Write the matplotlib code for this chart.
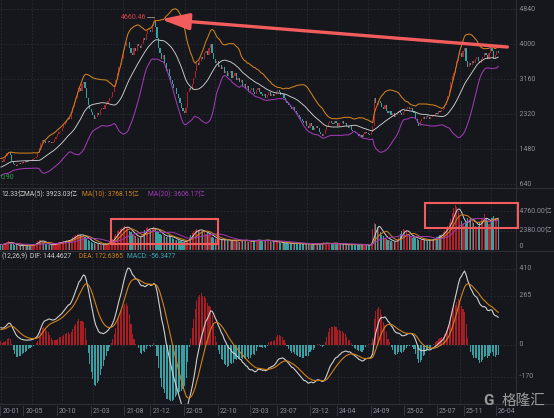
import matplotlib
matplotlib.use('Agg')
import matplotlib.pyplot as plt
from matplotlib.lines import Line2D
from matplotlib.patches import Rectangle
from matplotlib.transforms import blended_transform_factory
import numpy as np
import pandas as pd

plt.rcParams['font.family'] = ['Roboto', 'Noto Sans CJK SC', 'DejaVu Sans']

# weekly closes before the visible window, only used to warm up BOLL / MACD
warmup_close = [760, 770, 790, 780, 800, 820, 810, 840, 860, 850,
                880, 900, 890, 920, 950, 940, 970, 1000, 990, 1030,
                1060, 1050, 1090, 1120, 1100, 1140, 1170, 1160, 1190, 1210]

# weekly closes, visible window
close = [1200, 1180, 1250, 1320, 1380, 1420, 1350, 1200, 1120, 1100,
         1080, 1120, 1150, 1130, 1170, 1160, 1190, 1180, 1210, 1200,
         1230, 1250, 1280, 1300, 1380, 1500, 1620, 1700, 1680, 1640,
         1620, 1680, 1650, 1630, 1660, 1720, 1780, 1850, 1900, 1920,
         1980, 2060, 2120, 2180, 2230, 2200, 2350, 2500, 2620, 2700,
         2850, 2950, 2880, 3050, 3100, 2950, 2700, 2550, 2450, 2380,
         2300, 2200, 2250, 2350, 2300, 2420, 2480, 2450, 2550, 2580,
         2650, 2700, 2740, 2850, 2980, 3150, 3300, 3450, 3500, 3650,
         3860, 3950, 4050, 4050, 3900, 3800, 3750, 3900, 3850, 4000,
         3950, 3900, 4000, 4150, 4100, 4250, 4350, 4350, 4300, 4450,
         4560, 4420, 4150, 3900, 3800, 3650, 3750, 3550, 3350, 3400,
         3250, 3150, 3050, 2950, 2950, 2800, 2700, 2600, 2480, 2400,
         2350, 2480, 2850, 2950, 2900, 3050, 3200, 3350, 3550, 3500,
         3600, 3700, 3650, 3800, 3850, 3750, 3900, 4000, 3800, 3650,
         3550, 3600, 3450, 3500, 3400, 3450, 3300, 3350, 3250, 3300,
         3350, 3200, 3250, 3300, 3150, 3200, 3100, 3150, 3000, 3050,
         2950, 3000, 2850, 2900, 2950, 2850, 2800, 2900, 2950, 2850,
         2800, 2750, 2800, 2700, 2780, 2850, 2750, 2800, 2750, 2800,
         2850, 2900, 2850, 2780, 2800, 2700, 2650, 2600, 2550, 2500,
         2450, 2500, 2400, 2350, 2300, 2250, 2200, 2150, 2100, 2150,
         2050, 2000, 2100, 2050, 1950, 2000, 2050, 2000, 1900, 1850,
         1800, 1850, 1950, 2050, 2100, 2150, 2100, 2080, 2150, 2100,
         2050, 2120, 2100, 2150, 2080, 2100, 2050, 2000, 2050, 1950,
         1920, 1900, 1880, 1850, 1800, 1830, 1780, 1850, 1900, 1880,
         1850, 1820, 1900, 2050, 2700, 2600, 2550, 2650, 2600, 2500,
         2450, 2550, 2400, 2350, 2400, 2300, 2350, 2250, 2300, 2350,
         2400, 2350, 2300, 2380, 2420, 2450, 2500, 2450, 2480, 2400,
         2350, 2200, 2100, 2050, 2150, 2200, 2250, 2200, 2280, 2250,
         2200, 2250, 2300, 2280, 2350, 2320, 2400, 2380, 2420, 2450,
         2550, 2650, 2750, 2900, 3100, 3250, 3300, 3450, 3600, 3750,
         3800, 3700, 3850, 3900, 3600, 3450, 3550, 3500, 3600, 3550,
         3650, 3700, 3600, 3550, 3650, 3700, 3800, 3750, 3650, 3800,
         3900, 3850, 3650, 3750, 3850, 3800]

# weekly turnover, 亿
volume = [700, 650, 800, 900, 1000, 1100, 900, 800, 700, 650,
          600, 550, 600, 500, 550, 600, 650, 600, 550, 600,
          650, 700, 800, 900, 1100, 1250, 1300, 1000, 900, 800,
          700, 650, 600, 650, 700, 800, 850, 900, 950, 1000,
          1000, 1100, 1050, 1200, 1300, 1250, 1400, 1600, 1750, 1900,
          2000, 1900, 1800, 1700, 1900, 1600, 1400, 1200, 1100, 1000,
          900, 850, 800, 750, 800, 700, 650, 700, 750, 800,
          900, 1000, 1200, 1400, 1700, 2000, 2300, 2500, 2600, 2700,
          2900, 3000, 2800, 2700, 2400, 2200, 2000, 1800, 1700, 1600,
          1500, 1600, 1800, 2200, 2500, 2700, 2800, 2600, 2500, 2700,
          2900, 2600, 2300, 2200, 2000, 1900, 1800, 1700, 1600, 1700,
          1800, 1600, 1500, 1400, 1300, 1250, 1200, 1100, 1150, 1000,
          1050, 1100, 1300, 1600, 1900, 2100, 2300, 2500, 2600, 2400,
          2500, 2400, 2300, 2200, 2000, 2100, 1900, 1800, 1600, 1500,
          1400, 1350, 1300, 1250, 1200, 1300, 1350, 1250, 1200, 1150,
          1100, 1200, 1300, 1250, 1150, 1100, 1050, 1200, 1300, 1250,
          1200, 1100, 1000, 1050, 1100, 1200, 1250, 1300, 1200, 1150,
          1100, 1200, 1250, 1300, 1200, 1150, 1100, 1050, 1000, 1100,
          1050, 1000, 950, 900, 850, 900, 950, 850, 800, 750,
          800, 850, 900, 850, 800, 750, 700, 750, 800, 850,
          800, 750, 700, 650, 700, 750, 800, 750, 700, 800,
          900, 950, 850, 800, 750, 800, 850, 900, 850, 800,
          750, 700, 750, 800, 700, 650, 600, 650, 700, 750,
          700, 650, 600, 650, 700, 750, 700, 650, 600, 650,
          600, 650, 700, 2600, 3300, 3200, 2900, 2600, 2200, 1900,
          1700, 1500, 1400, 1300, 1200, 1100, 1000, 1000, 1100, 1300,
          1600, 2000, 2400, 2600, 2500, 2300, 2000, 1800, 1600, 1500,
          1700, 1500, 1400, 1300, 1250, 1200, 1300, 1250, 1200, 1150,
          1200, 1250, 1300, 1400, 1500, 1600, 1700, 1800, 2000, 2200,
          2500, 2800, 3000, 3300, 3800, 4500, 5200, 5500, 5300, 4800,
          4200, 3600, 3200, 3000, 3400, 4000, 3800, 4000, 3700, 3300,
          3000, 2800, 3000, 3500, 3800, 4000, 4400, 3800, 3400, 3200,
          3500, 3900, 4200, 4000, 3700, 3800]

start_date = '2020-01-17'
peak_high = 4660.46
low_text = '0.90'
month_labels = ['20-01', '20-05', '20-10', '21-03', '21-08', '21-12', '22-05',
                '22-10', '23-03', '23-07', '23-12', '24-04', '24-09', '25-02',
                '25-07', '25-11', '26-04']
price_ticks = [4840, 4000, 3160, 2320, 1480, 640]
vol_ticks = [4760, 2380]
macd_ticks = [410, 265, 0, -170]

BG = '#15171c'
GRID = '#2a2d34'
SEP = '#2c2f36'
TXT = '#8b8f97'
RED = '#b51f27'
TEAL = '#38a2a3'
ORANGE = '#d0821c'
PURPLE = '#a03ab3'
WHITE = '#cfcfcf'
MARK = '#f25c5c'

# indicators
allc = pd.Series(warmup_close + close, dtype=float)
nw = len(warmup_close)
mid = allc.rolling(20).mean()
sd = allc.rolling(20).std(ddof=0)
upper = (mid + 2 * sd).values[nw:]
lower = (mid - 2 * sd).values[nw:]
mid = mid.values[nw:]
ema12 = allc.ewm(span=12, adjust=False).mean()
ema26 = allc.ewm(span=26, adjust=False).mean()
dif_s = ema12 - ema26
dea_s = dif_s.ewm(span=9, adjust=False).mean()
dif = dif_s.values[nw:]
dea = dea_s.values[nw:]
hist = 2 * (dif - dea)

c = allc.values[nw:]
o = allc.values[nw - 1:-1]
n = len(c)
x = np.arange(n)
up = c >= o
cols = np.where(up, RED, TEAL)

vol = pd.Series(volume, dtype=float)
vma5 = vol.rolling(5, min_periods=1).mean()
vma10 = vol.rolling(10, min_periods=1).mean()
vma20 = vol.rolling(20, min_periods=1).mean()

W, H = 554, 418
fig = plt.figure(figsize=(W / 100, H / 100), dpi=100, facecolor=BG)

def px_axes(top, bottom):
    return fig.add_axes([0, 1 - bottom / H, 516 / W, (bottom - top) / H], facecolor=BG)

ax1 = px_axes(0, 188)
ax2 = px_axes(188, 251)
ax3 = px_axes(251, 404)

XMIN, XMAX = -0.6, -0.6 + 516 / 1.53
for ax in (ax1, ax2, ax3):
    ax.set_xlim(XMIN, XMAX)
    ax.set_xticks([])
    ax.set_yticks([])
    for s in ('left', 'top', 'bottom'):
        ax.spines[s].set_visible(False)
    ax.spines['right'].set_color(SEP)
    ax.spines['right'].set_linewidth(0.8)
    for g in range(0, int(XMAX), 20):
        ax.axvline(g, color=GRID, lw=0.6, ls=(0, (2, 2)), zorder=0)

# ---- price panel
ax1.set_ylim(551, 5063)
for t in price_ticks:
    ax1.axhline(t, color=GRID, lw=0.6, ls=(0, (2, 2)), zorder=0)
    ax1.text(1.0, t, '  ' + str(t), transform=blended_transform_factory(ax1.transAxes, ax1.transData),
             color=TXT, fontsize=5, va='center', ha='left', clip_on=False)
bot = np.minimum(o, c)
hgt = np.maximum(np.abs(c - o), 8)
ax1.bar(x, hgt, bottom=bot, width=0.75, color=cols, linewidth=0, zorder=2)
ax1.plot(x, upper, color=ORANGE, lw=0.75, zorder=3)
ax1.plot(x, mid, color=WHITE, lw=0.65, zorder=3)
ax1.plot(x, lower, color=PURPLE, lw=0.75, zorder=3)

ip = int(np.argmax(c))
ax1.vlines(ip, max(o[ip], c[ip]), peak_high, color=cols[ip], lw=0.6, zorder=2)
ax1.plot([ip - 4.5, ip], [peak_high, peak_high], color='#9a9a9a', lw=0.6, zorder=4)
ax1.text(ip - 5, peak_high - 20, '%.2f' % peak_high, color='#d8434a', fontsize=5,
         ha='right', va='center', zorder=4)
ax1.annotate('', xy=(ip + 4.5, peak_high - 60), xytext=(331, 3935),
             arrowprops=dict(arrowstyle='-|>,head_length=1.7,head_width=0.5',
                             color=MARK, lw=2.4, mutation_scale=10, shrinkA=0, shrinkB=0),
             annotation_clip=False, zorder=6)

# low marker (only its tail is visible at the left edge)
ax1.text(0.002, 810, low_text, transform=blended_transform_factory(ax1.transAxes, ax1.transData),
         color='#2fa34a', fontsize=5, ha='left', va='center')

# ---- volume panel
ax2.set_ylim(-110, 7630)
for t in vol_ticks:
    ax2.axhline(t, color=GRID, lw=0.6, ls=(0, (2, 2)), zorder=0)
    ax2.text(1.0, t, '  %.2f亿' % t, transform=blended_transform_factory(ax2.transAxes, ax2.transData),
             color=TXT, fontsize=5, va='center', ha='left', clip_on=False)
ax2.text(1.0, 0, '  0', transform=blended_transform_factory(ax2.transAxes, ax2.transData),
         color=TXT, fontsize=5, va='bottom', ha='left', clip_on=False)
ax2.bar(x, volume, width=0.75, color=cols, linewidth=0, zorder=2)
ax2.plot(x, vma5, color=WHITE, lw=0.7, zorder=3)
ax2.plot(x, vma10, color=ORANGE, lw=0.7, zorder=3)
ax2.plot(x, vma20, color=PURPLE, lw=0.7, zorder=3)
ax2.add_patch(Rectangle((72, 740), 70, 3070, fill=False, ec=MARK, lw=1.5, zorder=5))
ax2.add_patch(Rectangle((277, 2670), 61, 3150, fill=False, ec=MARK, lw=1.5, zorder=5, clip_on=False))

# ---- MACD panel
ax3.set_ylim(-317, 505)
for t in macd_ticks:
    ax3.axhline(t, color=GRID, lw=0.6, ls=(0, (2, 2)), zorder=0)
    ax3.text(1.0, t, '  ' + str(t), transform=blended_transform_factory(ax3.transAxes, ax3.transData),
             color=TXT, fontsize=5, va='center', ha='left', clip_on=False)
ax3.bar(x, hist, width=0.7, color=np.where(hist >= 0, '#a81c23', '#3a9fa3'), linewidth=0, zorder=2)
ax3.plot(x, dif, color=WHITE, lw=0.8, zorder=3)
ax3.plot(x, dea, color=ORANGE, lw=0.8, zorder=3)

dates = pd.date_range(start_date, periods=n, freq='7D')
bt = blended_transform_factory(ax3.transData, ax3.transAxes)
for lab in month_labels:
    k = int(dates.searchsorted(pd.Timestamp('20' + lab + '-01')))
    ax3.text(k + 1, -0.046, lab, transform=bt, color=TXT, fontsize=5, ha='left', va='center', clip_on=False)
    ax3.plot([k - 0.3, k - 0.3], [-0.015, -0.075], transform=bt, color='#3a3e46', lw=0.6, clip_on=False)

# separators
for yy in (188, 251, 404):
    fig.add_artist(Line2D([0, 1], [1 - yy / H, 1 - yy / H], color=SEP, lw=0.8))

# headers
def ftext(px, py, s, color, ha='left'):
    fig.text(px / W, 1 - py / H, s, color=color, fontsize=4.9, ha=ha, va='center')

ftext(1, 194.5, '12.33亿', '#d0d0d0')
ftext(24, 194.5, 'MA(5): 3923.03亿', '#d0d0d0')
ftext(82, 194.5, 'MA(10): 3768.15亿', ORANGE)
ftext(148, 194.5, 'MA(20): 3606.17亿', PURPLE)
ftext(1, 256.5, '(12,26,9)', '#d0d0d0')
ftext(30, 256.5, 'DIF: 144.4627', '#d0d0d0')
ftext(79, 256.5, 'DEA: 172.6365', ORANGE)
ftext(127, 256.5, 'MACD: -56.3477', '#3aaab8')

# watermark
fig.text(489 / W, 1 - 401 / H, 'G', color='#9a9a9a', fontsize=11, fontweight='bold', ha='center', va='center')
fig.text(524 / W, 1 - 401 / H, '格隆汇', color='#9a9a9a', fontsize=10.5, ha='center', va='center')

fig.savefig('out.png', dpi=100, facecolor=BG)
